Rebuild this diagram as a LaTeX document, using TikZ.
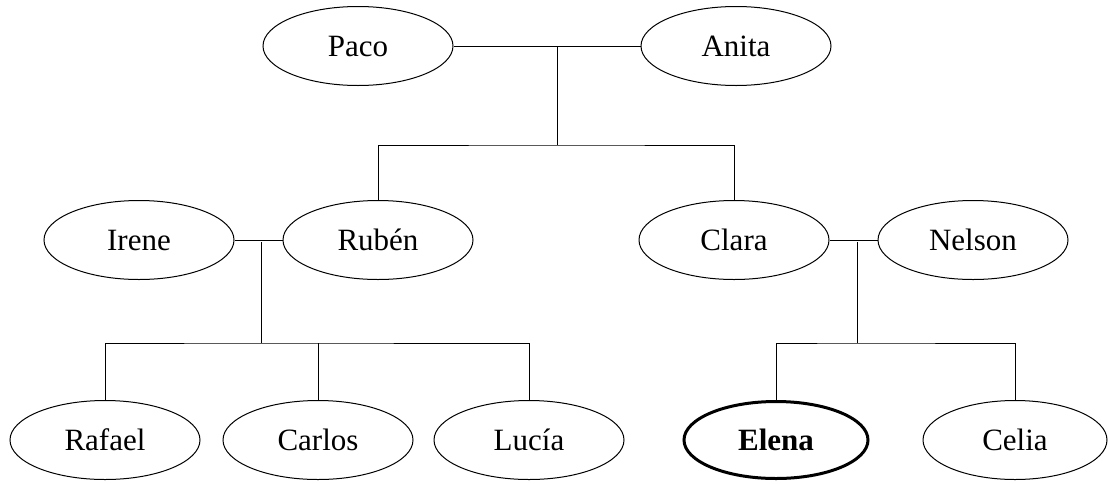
\documentclass[tikz,border=0pt]{standalone}
\usepackage{fontspec}
\setmainfont{Liberation Serif}
\usetikzlibrary{shapes.geometric}
\begin{document}
\begin{tikzpicture}[x=1pt,y=-1pt,
  person/.style={ellipse,draw,line width=1pt,minimum width=190pt,minimum height=79pt,inner sep=0pt,font=\fontsize{31}{34}\selectfont},
  me/.style={person,line width=3pt,font=\fontsize{31}{34}\selectfont\bfseries,minimum width=184pt,minimum height=77pt},
  link/.style={draw,line width=1pt}]
\useasboundingbox (0,0) rectangle (1108,483);
% top row
\node[person] (paco)  at (358,46) {Paco};
\node[person] (anita) at (736,46) {Anita};
% middle row
\node[person] (irene)  at (139,240) {Irene};
\node[person] (ruben)  at (378,240) {Rubén};
\node[person] (clara)  at (734,240) {Clara};
\node[person] (nelson) at (973,240) {Nelson};
% bottom row
\node[person] (rafael) at (105,440) {Rafael};
\node[person] (carlos) at (318,440) {Carlos};
\node[person] (lucia)  at (529,440) {Lucía};
\node[me]     (elena)  at (776,440) {Elena};
\node[person,minimum width=184pt] (celia)  at (1015,440) {Celia};
% junction points
\coordinate (pa)  at (557,46);
\coordinate (pab) at (557,145);
\coordinate (ir)  at (261,242);
\coordinate (irb) at (261,343);
\coordinate (cn)  at (857,242);
\coordinate (cnb) at (857,343);
% couple lines
\path[link] (paco.east) -- (anita.west);
\path[link] (irene.east) -- (ruben.west);
\path[link] (clara.east) -- (nelson.west);
% descent lines
\path[link] (pa) -- (pab);
\path[link] (ruben.north) |- (pab) -| (clara.north);
\path[link] (ir) -- (irb);
\path[link] (rafael.north) |- (irb) -| (lucia.north);
\path[link] (carlos.north) -- (carlos.north |- irb);
\path[link] (cn) -- (cnb);
\path[link] (elena.north) |- (cnb) -| (celia.north);
\end{tikzpicture}
\end{document}
